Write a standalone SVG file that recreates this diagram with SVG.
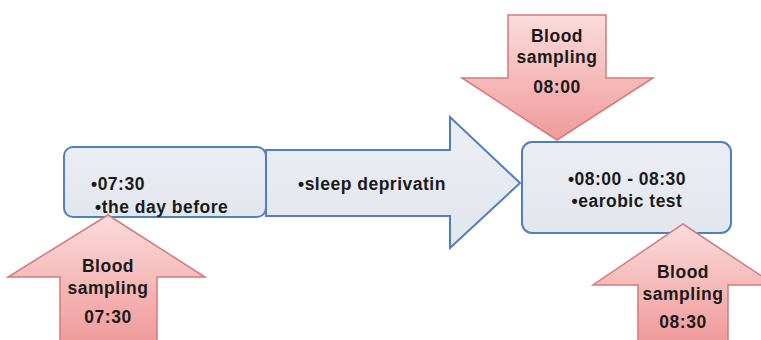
<svg xmlns="http://www.w3.org/2000/svg" width="761" height="340" viewBox="0 0 761 340">
<defs>
<linearGradient id="pink" x1="0" y1="0" x2="0" y2="1">
<stop offset="0" stop-color="#fbdcdc"/>
<stop offset="1" stop-color="#f09a9a"/>
</linearGradient>
<linearGradient id="blue" x1="0" y1="0" x2="0" y2="1">
<stop offset="0" stop-color="#ebeef3"/>
<stop offset="1" stop-color="#e2e6ed"/>
</linearGradient>
<style>
.bl{fill:url(#blue);stroke:#4f7fbc;stroke-width:2}
.pk{fill:url(#pink);stroke:#d47a7a;stroke-width:1.5}
text{font-family:"Liberation Sans",Arial,sans-serif;font-weight:bold;font-size:17.5px;letter-spacing:0.5px;fill:#1a1a1a}
.c{text-anchor:middle}
</style>
</defs>
<rect width="761" height="340" fill="#ffffff"/>
<g id="connectors">
<path id="big-arrow" class="bl" d="M266,150 H450 V117 L520,183 L450,248 V216 H266 Z"/>
<text x="298" y="190">•sleep deprivatin</text>
</g>
<g id="node-day-before">
<rect class="bl" x="64" y="147" width="202" height="70" rx="9"/>
<text x="91" y="190">•07:30</text>
<text x="95" y="213">•the day before</text>
</g>
<g id="node-test">
<rect class="bl" x="522" y="142" width="209" height="91" rx="10"/>
<text class="c" x="627" y="185">•08:00 - 08:30</text>
<text class="c" x="627" y="207">•earobic test</text>
</g>
<g id="sample-0800">
<path class="pk" d="M508,15 H606 V78 H653 L557,140 L462,78 H508 Z"/>
<text class="c" x="557" y="42">Blood</text>
<text class="c" x="557" y="63">sampling</text>
<text class="c" x="557" y="93">08:00</text>
</g>
<g id="sample-0730">
<path class="pk" d="M60,342 V277 H8 L108,215 L205,277 H157 V342 Z"/>
<text class="c" x="108" y="272">Blood</text>
<text class="c" x="108" y="294">sampling</text>
<text class="c" x="108" y="323">07:30</text>
</g>
<g id="sample-0830">
<path class="pk" d="M638,342 V285 H593 L683,224 L775,285 H728 V342 Z"/>
<text class="c" x="683" y="278">Blood</text>
<text class="c" x="683" y="300">sampling</text>
<text class="c" x="683" y="328">08:30</text>
</g>
</svg>
